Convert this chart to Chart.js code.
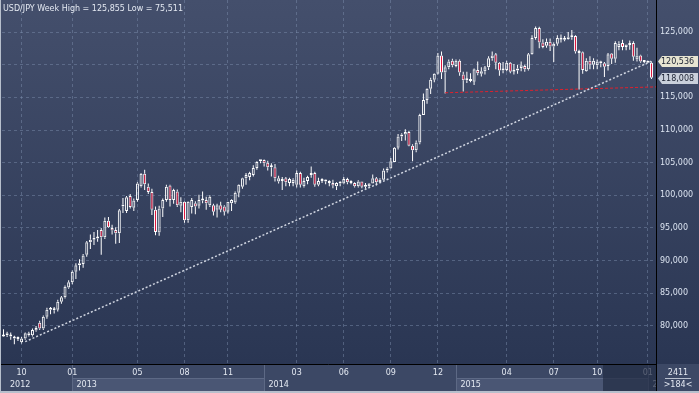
<!DOCTYPE html>
<html lang="en">
<head>
<meta charset="UTF-8">
<title>USD/JPY Week</title>
<script src="https://cdn.jsdelivr.net/npm/chart.js"></script>
<style>
  html, body { margin: 0; padding: 0; background: #3b4764; overflow: hidden; }
  #wrap { width: 699px; height: 393px; }
</style>
</head>
<body>
<div id="wrap"><canvas id="chart" width="699" height="393"></canvas></div>
<script>
// weekly bars Aug 2012 - Jan 2016 (the broker splits the week that spans new year)
const openP = [
  78.6, 78.9, 78.6, 78.3, 78.2, 77.5, 78.1, 78.9, 78.6, 79.3,
  80.5, 79.6, 81.4, 82.5, 82.6, 82.5, 83.7, 84.4, 85.9, 86.7,
  88.3, 89.3, 89.5, 90.9, 92.8, 93.2, 93.5, 94.7, 93.6, 96.1,
  95.0, 94.7, 94.2, 98.3, 97.6, 99.9, 98.1, 99.3, 101.4, 103.3,
  101.3, 100.5, 97.8, 94.3, 98.0, 99.3, 101.5, 99.3, 100.6, 98.4,
  99.0, 96.2, 98.2, 98.8, 98.4, 99.2, 99.3, 98.5, 98.5, 97.8,
  98.5, 98.3, 97.5, 98.8, 98.9, 100.4, 101.3, 102.6, 102.8, 103.1,
  104.2, 105.2, 105.4, 105.0, 104.3, 104.3, 102.1, 102.2, 102.6, 101.9,
  101.9, 101.6, 103.4, 101.4, 102.2, 103.1, 103.4, 101.6, 102.2, 102.1,
  102.2, 101.9, 101.4, 101.9, 101.8, 102.5, 102.0, 101.9, 101.4, 102.1,
  101.3, 101.4, 101.8, 102.6, 102.0, 102.4, 103.8, 104.1, 105.1, 107.3,
  109.0, 109.3, 109.7, 107.6, 106.9, 108.1, 112.3, 114.6, 116.3, 117.7,
  118.6, 121.4, 118.8, 119.6, 120.6, 119.8, 120.6, 118.5, 117.6, 117.8,
  117.4, 119.2, 118.6, 119.0, 119.6, 121.0, 121.6, 120.3, 119.1, 119.2,
  120.3, 118.9, 119.1, 119.5, 119.8, 119.3, 121.6, 124.1, 125.6, 123.4,
  122.9, 123.5, 122.8, 123.2, 124.1, 123.8, 123.9, 124.2, 124.4, 122.0,
  121.9, 119.0, 120.6, 120.0, 119.9, 120.5, 120.2, 119.8, 121.7, 120.9,
  122.7, 123.3, 122.7, 123.0, 123.3, 120.8, 121.4, 120.5, 120.5, 120.3
];
const highP = [
  79.5, 79.1, 79.0, 78.5, 78.4, 78.3, 79.0, 79.1, 79.6, 80.0,
  80.8, 81.6, 82.8, 82.9, 82.9, 84.0, 84.6, 86.2, 87.0, 88.5,
  89.6, 90.2, 91.0, 93.0, 94.0, 94.4, 94.7, 95.0, 96.6, 96.7,
  95.5, 95.1, 97.9, 99.6, 99.9, 100.2, 99.5, 102.0, 103.4, 103.9,
  101.8, 101.0, 98.3, 98.4, 99.5, 101.6, 101.6, 101.0, 100.9, 99.7,
  99.1, 99.1, 99.6, 99.1, 100.1, 100.6, 99.8, 100.0, 98.7, 98.7,
  99.0, 98.5, 99.0, 99.4, 100.6, 101.7, 102.7, 103.4, 103.6, 104.6,
  105.2, 105.4, 105.5, 105.3, 104.9, 104.8, 103.0, 102.8, 102.8, 102.7,
  102.6, 103.8, 103.6, 102.7, 103.0, 104.4, 103.6, 102.7, 102.6, 102.4,
  102.3, 102.4, 102.0, 102.1, 102.8, 102.7, 102.3, 102.0, 102.3, 102.1,
  101.9, 101.9, 103.2, 102.8, 102.6, 104.1, 104.3, 105.7, 107.4, 109.4,
  109.5, 110.1, 109.9, 107.8, 108.4, 112.5, 115.6, 116.4, 118.0, 118.7,
  121.8, 122.0, 119.9, 120.8, 120.9, 120.8, 120.8, 118.9, 118.9, 118.7,
  119.4, 120.5, 119.6, 119.8, 121.3, 122.0, 121.8, 120.4, 120.4, 120.6,
  120.4, 120.1, 120.0, 120.5, 120.0, 121.8, 124.5, 125.855, 125.8, 123.9,
  124.0, 124.0, 123.4, 124.5, 124.6, 124.4, 125.0, 125.3, 124.5, 122.3,
  122.0, 121.0, 121.3, 121.0, 120.8, 120.6, 120.4, 121.8, 121.8, 123.6,
  123.6, 123.8, 123.1, 123.7, 123.6, 122.6, 121.5, 120.7, 120.6, 120.5
];
const lowP = [
  78.3, 78.3, 77.9, 77.2, 77.7, 77.3, 77.9, 78.4, 78.4, 79.1,
  79.4, 79.4, 81.1, 81.8, 81.9, 82.2, 83.4, 84.2, 85.7, 86.4,
  87.2, 88.5, 88.9, 90.6, 91.8, 92.4, 92.9, 90.9, 93.3, 95.0,
  94.0, 92.6, 92.7, 97.3, 97.3, 98.0, 97.6, 99.0, 101.2, 100.8,
  100.2, 97.0, 93.9, 93.8, 96.7, 99.0, 98.3, 98.7, 98.2, 97.4,
  95.8, 95.8, 97.2, 97.1, 98.0, 98.8, 97.8, 98.2, 96.9, 96.6,
  97.4, 96.9, 97.2, 97.6, 98.7, 99.7, 101.0, 101.6, 102.3, 102.9,
  103.9, 104.9, 104.4, 103.8, 102.9, 102.1, 101.8, 100.8, 101.4, 101.4,
  101.4, 101.2, 101.2, 101.2, 101.7, 102.7, 101.3, 101.4, 101.9, 101.7,
  101.4, 101.1, 100.8, 101.4, 101.7, 101.7, 101.7, 101.2, 101.2, 101.1,
  101.0, 101.2, 101.8, 101.5, 101.9, 102.3, 103.5, 104.1, 105.1, 107.0,
  108.3, 108.4, 107.5, 105.2, 106.6, 107.8, 112.3, 114.0, 115.5, 117.3,
  118.5, 117.8, 115.6, 119.3, 119.6, 119.6, 118.3, 115.9, 117.2, 117.3,
  116.9, 118.4, 118.2, 118.5, 119.2, 120.6, 119.3, 118.3, 118.7, 119.0,
  118.7, 118.5, 118.6, 119.0, 118.9, 119.1, 121.5, 123.8, 122.5, 122.5,
  122.6, 122.1, 120.4, 122.9, 123.4, 123.6, 123.8, 123.8, 121.7, 116.2,
  118.6, 118.9, 119.3, 119.3, 119.3, 119.6, 118.1, 119.1, 120.1, 120.3,
  122.2, 122.2, 122.2, 122.3, 120.6, 120.5, 120.3, 120.2, 120.3, 117.8
];
const closeP = [
  78.4, 78.6, 78.4, 78.1, 78.0, 78.1, 78.9, 78.6, 79.4, 79.7,
  79.6, 81.4, 82.5, 82.6, 82.4, 83.7, 84.4, 86.0, 86.7, 88.3,
  89.3, 89.6, 90.8, 92.8, 93.2, 93.5, 93.4, 93.6, 96.1, 95.1,
  94.6, 94.2, 97.7, 98.6, 99.7, 98.2, 99.2, 101.8, 103.3, 101.7,
  100.5, 97.8, 94.4, 98.0, 99.3, 101.3, 99.3, 100.8, 98.5, 99.0,
  96.2, 99.0, 99.3, 98.3, 99.3, 99.4, 98.8, 99.8, 97.5, 98.5,
  97.8, 97.5, 99.0, 99.3, 100.4, 101.6, 102.6, 103.1, 103.4, 104.2,
  105.1, 105.3, 104.9, 104.3, 104.4, 102.6, 102.6, 102.4, 102.0, 102.5,
  102.4, 103.4, 101.6, 102.2, 102.8, 103.4, 101.6, 102.2, 102.3, 102.2,
  101.9, 101.5, 101.9, 101.8, 102.5, 102.0, 101.9, 101.4, 102.1, 101.3,
  101.4, 101.8, 102.6, 102.0, 102.4, 103.8, 104.1, 105.2, 107.3, 109.0,
  109.3, 109.7, 107.6, 106.9, 108.1, 112.3, 114.6, 116.3, 117.7, 118.6,
  121.4, 118.8, 119.6, 120.5, 119.9, 120.6, 118.8, 117.6, 117.8, 117.5,
  119.3, 118.7, 119.0, 119.6, 121.0, 121.4, 120.3, 119.1, 119.3, 120.3,
  118.9, 119.2, 119.4, 119.9, 119.3, 121.6, 124.1, 125.6, 123.4, 122.7,
  123.5, 122.8, 123.2, 124.1, 123.8, 123.9, 124.2, 124.4, 122.0, 121.8,
  119.2, 120.6, 120.0, 120.6, 120.5, 120.2, 119.7, 121.6, 120.9, 123.3,
  123.2, 122.7, 123.1, 123.2, 121.2, 121.4, 120.5, 120.4, 120.3, 118.008
];

// axis ticks
const yTicks = [80, 85, 90, 95, 100, 105, 110, 115, 120, 125];
const monthTickIdx = [5, 19, 37, 50, 62, 81, 94, 107, 120, 139, 152, 164, 178];
const monthTickText = ['10', '01', '05', '08', '11', '03', '06', '09', '12', '04', '07', '10', '01'];
const yearStartIdx = [19, 72, 125, 178];
const yearText = ['2013', '2014', '2015', '2016'];
const firstYearText = '2012';

// drawn lines: rising trend and the support through the two lows
const trendIdx = [6, 179];
const trendVal = [77.6, 120.536];
const supportIdx = [122, 159];
const supportVal = [115.7, 116.27];

// right-hand price tags
const tagValues = [120.536, 118.008];
const tagFills = ['#e7e5d2', '#c9d0db'];

const titleText = 'USD/JPY Week High = 125,855 Low = 75,511';
const barCountText = ['2411', '>184<'];
const shadeFromIdx = 165.6;

const X_MIN = -0.41, X_MAX = 180.25;
const Y_MIN = 74.18, Y_MAX = 129.9;

const RED = '#e3163d';
const TXT = '#e3e8f1';
const GRID = 'rgba(128,146,178,0.45)';
const FONT = '8px "DejaVu Sans"';

const idx = openP.map((_, i) => i);
const bodies = idx.map(i => ({ x: i, y: [openP[i], closeP[i]] }));
const upWicks = idx.map(i => ({ x: i, y: [Math.max(openP[i], closeP[i]), highP[i]] }));
const lowWicks = idx.map(i => ({ x: i, y: [lowP[i], Math.min(openP[i], closeP[i])] }));

const trendData = trendIdx.map((v, k) => ({ x: v, y: trendVal[k] }));
const slope = (supportVal[1] - supportVal[0]) / (supportIdx[1] - supportIdx[0]);
const supportData = [
  { x: supportIdx[0], y: supportVal[0] },
  { x: X_MAX, y: supportVal[0] + slope * (X_MAX - supportIdx[0]) }
];

const fmt = v => v.toFixed(3).replace('.', ',');

const framePlugin = {
  id: 'frame',
  beforeDraw(chart) {
    const { ctx, chartArea: a, width, height } = chart;
    ctx.save();
    ctx.fillStyle = '#3c4865';
    ctx.fillRect(0, 0, width, height);
    const g = ctx.createLinearGradient(0, 0, 0, a.bottom);
    g.addColorStop(0, '#444f6c');
    g.addColorStop(1, '#2a3653');
    ctx.fillStyle = g;
    ctx.fillRect(0, 0, width, a.bottom);
    ctx.restore();
  },
  afterDraw(chart) {
    const { ctx, chartArea: a, width, height } = chart;
    const xs = chart.scales.x, ys = chart.scales.y;
    const rowTop = a.bottom + 1, rowMid = 378, rowBot = 391;
    ctx.save();
    ctx.font = FONT;
    ctx.textBaseline = 'middle';

    // title
    ctx.fillStyle = TXT;
    ctx.textAlign = 'left';
    ctx.fillText(titleText, 3, 8.5);

    // time axis
    ctx.save();
    ctx.beginPath();
    ctx.rect(0, rowTop, a.right, rowBot - rowTop);
    ctx.clip();
    ctx.lineWidth = 1;
    yearStartIdx.forEach((v, k) => {
      const x0 = Math.round(xs.getPixelForValue(v)) + 0.5;
      const x1 = k + 1 < yearStartIdx.length ? Math.round(xs.getPixelForValue(yearStartIdx[k + 1])) + 0.5 : a.right;
      if (k % 2 === 0) {
        ctx.fillStyle = '#4a5674';
        ctx.fillRect(x0, rowMid, x1 - x0, rowBot - rowMid);
        ctx.strokeStyle = '#5d6985';
        ctx.beginPath();
        ctx.moveTo(x0, rowMid + 0.5);
        ctx.lineTo(x1, rowMid + 0.5);
        ctx.stroke();
      }
      ctx.strokeStyle = '#5d6985';
      ctx.beginPath();
      ctx.moveTo(x0, rowTop);
      ctx.lineTo(x0, rowBot);
      ctx.stroke();
      ctx.fillStyle = TXT;
      ctx.textAlign = 'left';
      ctx.fillText(yearText[k], x0 + 4, 384.5);
    });
    ctx.fillStyle = TXT;
    ctx.textAlign = 'left';
    ctx.fillText(firstYearText, a.left + 8, 384.5);
    ctx.textAlign = 'center';
    monthTickIdx.forEach((v, k) => ctx.fillText(monthTickText[k], xs.getPixelForValue(v), 372.5));
    const sx = Math.round(xs.getPixelForValue(shadeFromIdx));
    ctx.fillStyle = 'rgba(34,44,68,0.72)';
    ctx.fillRect(sx, rowTop, a.right - sx, rowBot - rowTop);
    ctx.restore();

    // black frame of the plot
    ctx.strokeStyle = '#000';
    ctx.lineWidth = 1;
    ctx.beginPath();
    ctx.moveTo(0, a.bottom + 0.5);
    ctx.lineTo(a.right + 1, a.bottom + 0.5);
    ctx.moveTo(a.right + 0.5, 0);
    ctx.lineTo(a.right + 0.5, rowBot);
    ctx.stroke();

    // bar counter box
    ctx.fillStyle = TXT;
    ctx.textAlign = 'center';
    ctx.fillText(barCountText[0], 678, 372.5);
    ctx.fillText(barCountText[1], 678, 384.5);
    ctx.strokeStyle = '#b9c1cf';
    ctx.beginPath();
    ctx.moveTo(665, 378.5);
    ctx.lineTo(691, 378.5);
    ctx.stroke();

    // price tags
    tagValues.forEach((v, k) => {
      const y = Math.round(ys.getPixelForValue(v)) + 0.5;
      const x0 = a.right + 2, x1 = x0 + 4, x2 = width - 1;
      ctx.fillStyle = tagFills[k];
      ctx.beginPath();
      ctx.moveTo(x0, y);
      ctx.lineTo(x1, y - 5.5);
      ctx.lineTo(x2, y - 5.5);
      ctx.lineTo(x2, y + 5.5);
      ctx.lineTo(x1, y + 5.5);
      ctx.closePath();
      ctx.fill();
      ctx.fillStyle = '#1b2232';
      ctx.textAlign = 'left';
      ctx.fillText(fmt(v), x1 - 1, y + 0.5);
    });

    // light outer border
    ctx.fillStyle = '#b7bfcc';
    ctx.fillRect(0, 0, 1, height);
    ctx.fillRect(0, rowBot, width, height - rowBot);
    ctx.restore();
  }
};

new Chart(document.getElementById('chart'), {
  type: 'bar',
  data: {
    datasets: [
      {
        label: 'trend',
        type: 'line',
        data: trendData,
        borderColor: 'rgba(226,231,241,0.9)',
        borderWidth: 1.5,
        borderDash: [2, 2],
        pointRadius: 0,
        order: 1
      },
      {
        label: 'support',
        type: 'line',
        data: supportData,
        borderColor: '#e0202c',
        borderWidth: 1,
        borderDash: [3, 2],
        pointRadius: 0,
        order: 1
      },
      {
        label: 'body',
        data: bodies,
        barThickness: 3,
        grouped: false,
        minBarLength: 2,
        borderWidth: 1,
        borderSkipped: false,
        inflateAmount: 0,
        borderColor: '#ffffff',
        backgroundColor: c => closeP[c.dataIndex] < openP[c.dataIndex] ? RED : 'rgba(0,0,0,0)',
        order: 2
      },
      {
        label: 'upper wick',
        data: upWicks,
        barThickness: 1,
        grouped: false,
        borderWidth: 0,
        inflateAmount: 0,
        backgroundColor: '#ffffff',
        order: 3
      },
      {
        label: 'lower wick',
        data: lowWicks,
        barThickness: 1,
        grouped: false,
        borderWidth: 0,
        inflateAmount: 0,
        backgroundColor: '#ffffff',
        order: 3
      }
    ]
  },
  options: {
    responsive: false,
    animation: false,
    events: [],
    devicePixelRatio: 1,
    layout: { padding: { left: 2, top: 0, right: 0, bottom: 0 } },
    plugins: { legend: { display: false }, tooltip: { enabled: false } },
    scales: {
      x: {
        type: 'linear',
        offset: false,
        min: X_MIN,
        max: X_MAX,
        afterBuildTicks: s => { s.ticks = monthTickIdx.map(v => ({ value: v })); },
        afterFit: s => { s.height = 29; },
        ticks: { display: false },
        grid: { color: GRID, lineWidth: 1, drawTicks: false, offset: false },
        border: { display: false, dash: [3, 3] }
      },
      y: {
        position: 'right',
        min: Y_MIN,
        max: Y_MAX,
        afterBuildTicks: s => { s.ticks = yTicks.map(v => ({ value: v })); },
        afterFit: s => { s.width = 43; s.paddingTop = 0; s.paddingBottom = 0; },
        ticks: {
          padding: 4,
          color: '#dbe3f0',
          autoSkip: false,
          font: { family: 'DejaVu Sans', size: 8 },
          callback: v => tagValues.some(t => Math.abs(t - v) < 1.2) ? '' : fmt(v)
        },
        grid: { color: GRID, lineWidth: 1, drawTicks: false },
        border: { display: false, dash: [3, 3] }
      }
    }
  },
  plugins: [framePlugin]
});
</script>
</body>
</html>
